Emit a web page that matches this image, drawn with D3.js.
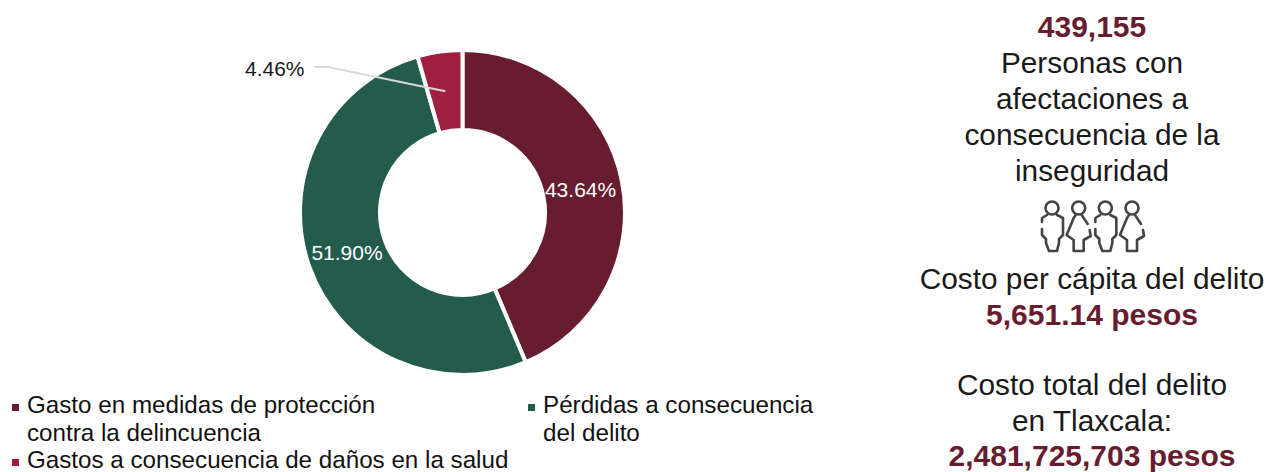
<!DOCTYPE html>
<html><head><meta charset="utf-8">
<style>html,body{margin:0;padding:0;background:#fff;overflow:hidden}svg{display:block}text{font-family:"Liberation Sans",Arial,sans-serif}</style>
<script src="https://cdn.jsdelivr.net/npm/d3@7"></script></head><body>
<svg id="c" width="1278" height="472"></svg>
<script>
const categories=["Gasto en medidas de protección contra la delincuencia","Pérdidas a consecuencia del delito","Gastos a consecuencia de daños en la salud"];
const values=[43.64,51.90,4.46];
const labels=["43.64%","51.90%","4.46%"];
const colors=["#671c30","#235c4d","#a01f3e"];
const legendLines=[["Gasto en medidas de protección","contra la delincuencia"],["Pérdidas a consecuencia","del delito"],["Gastos a consecuencia de daños en la salud"]];
const sideTexts=[
 {t:"439,155",y:37,b:1},{t:"Personas con",y:73},{t:"afectaciones a",y:109},{t:"consecuencia de la",y:145},{t:"inseguridad",y:181},
 {t:"Costo per cápita del delito",y:289},{t:"5,651.14 pesos",y:325,b:1},
 {t:"Costo total del delito",y:395},{t:"en Tlaxcala:",y:431},{t:"2,481,725,703 pesos",y:466,b:1}];
const figures=["m","f","m","f"];

const svg=d3.select("#c");
const cx=462.5,cy=212.5,R=162.5,r=82.5;
const pie=d3.pie().sort(null).value(d=>d)(values);
const arc=d3.arc().innerRadius(r).outerRadius(R);
const g=svg.append("g").attr("transform",`translate(${cx},${cy})`);
g.selectAll("path").data(pie).join("path").attr("d",arc).attr("fill",(d,i)=>colors[i]).attr("stroke","#fff").attr("stroke-width",4);
const c0=arc.centroid(pie[0]),c1=arc.centroid(pie[1]),c2=arc.centroid(pie[2]);
g.append("text").attr("x",c0[0]-2).attr("y",c0[1]+9).attr("text-anchor","middle").attr("font-size",21).attr("fill","#fff").text(labels[0]);
g.append("text").attr("x",c1[0]+0).attr("y",c1[1]+7).attr("text-anchor","middle").attr("font-size",21).attr("fill","#fff").text(labels[1]);
svg.append("path").attr("d",d3.line()([[314,67],[328,67],[cx+c2[0],cy+c2[1]]])).attr("fill","none").attr("stroke","#d9d9d9").attr("stroke-width",2);
svg.append("text").attr("x",245).attr("y",76).attr("font-size",21).attr("fill","#1a1a1a").text(labels[2]);

const leg=[[10,413,28],[526,413,544],[10,468,28]];
legendLines.forEach((ls,i)=>{
  const [sx,y,tx]=leg[i];
  svg.append("rect").attr("x",sx+2).attr("y",y-9).attr("width",7).attr("height",7).attr("fill",i==1?colors[1]:colors[i==0?0:2]);
  ls.forEach((l,j)=>svg.append("text").attr("x",tx-1).attr("y",y+j*28).attr("font-size",24.2).attr("fill","#111").text(l));
});
svg.selectAll("text.s").data(sideTexts).join("text").attr("class","s").attr("x",1092).attr("y",d=>d.y)
 .attr("text-anchor","middle").attr("font-size",d=>d.b?30:29.8).attr("font-weight",d=>d.b?"bold":"normal")
 .attr("fill",d=>d.b?"#671c30":"#1a1a1a").text(d=>d.t);
const px=d3.scalePoint().domain(d3.range(figures.length)).range([1052,1132]);
figures.forEach((f,i)=>{
  const a=svg.append("g").attr("transform",`translate(${px(i)},200)`).attr("fill","none").attr("stroke","#444").attr("stroke-width",2.6).attr("stroke-linejoin","round").attr("stroke-linecap","round");
  a.append("circle").attr("cy",8).attr("r",6.5);
  a.append("path").attr("d",f=="m"?"M-5,15 L-10,18 V22 M-10,29 V35 L-6,39 V43 L-3,51 H5 L7,43 V39 L11,35 V18 L5,15":"M-3,15 L-5,18 L-12,35 L-5,40 V51 H5 V40 L12,36 L11,30 M9,24 L5,18 L3,15");
});
</script></body></html>
